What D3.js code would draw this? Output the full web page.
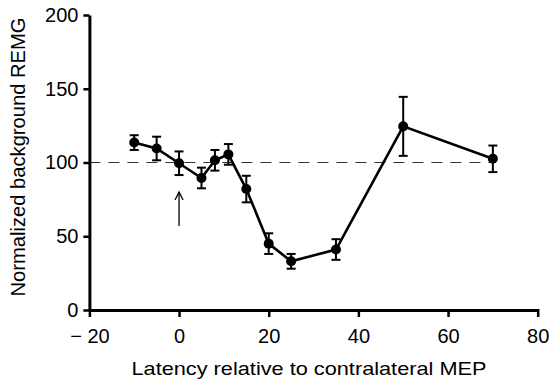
<!DOCTYPE html>
<html>
<head>
<meta charset="utf-8">
<script src="https://cdn.jsdelivr.net/npm/d3@7"></script>
<style>
  html, body { margin: 0; padding: 0; background: #fff; }
  svg { display: block; font-family: "Liberation Sans", Arial, sans-serif; }
</style>
</head>
<body>
<div id="chart"></div>
<script>
(function () {
  "use strict";

  // Latency (ms) relative to contralateral MEP, with mean and error.
  var latency = [-10, -5, 0, 5, 8, 11, 15, 20, 25, 35, 50, 70];
  var remg = [113.5, 109.5, 99.5, 89.5, 101.5, 105.5, 82, 45, 33, 41, 124.5, 102.5];
  var remgErr = [5, 8, 8, 7, 7, 7, 9, 7, 5, 7, 20, 9];

  var xTicks = [-20, 0, 20, 40, 60, 80];
  var yTicks = [0, 50, 100, 150, 200];
  var baseline = 100;
  var arrowSpan = [57, 80]; // arrow at latency 0

  var width = 550, height = 379;

  var svg = d3.select("#chart").append("svg")
    .attr("width", width)
    .attr("height", height);

  var x = d3.scaleLinear().domain([-20, 80]).range([89.4, 537.7]);
  var y = d3.scaleLinear().domain([0, 200]).range([310, 15]);

  var points = latency.map(function (d, i) {
    return { x: d, y: remg[i], e: remgErr[i] };
  });

  // Dashed reference line at 100.
  svg.append("line")
    .attr("x1", x(-20)).attr("x2", x(70))
    .attr("y1", y(baseline)).attr("y2", y(baseline))
    .attr("stroke", "#333")
    .attr("stroke-width", 1.2)
    .attr("stroke-dasharray", "11 8");

  // Axes.
  var xAxis = svg.append("g")
    .attr("transform", "translate(0," + y(0) + ")")
    .call(d3.axisBottom(x).tickValues(xTicks).tickSize(7).tickSizeOuter(0)
      .tickFormat(function (d) { return d < 0 ? "\u2212 " + Math.abs(d) : d; }));
  var yAxis = svg.append("g")
    .attr("transform", "translate(" + x(-20) + ",0)")
    .call(d3.axisLeft(y).tickValues(yTicks).tickSize(6).tickSizeOuter(0));

  [xAxis, yAxis].forEach(function (g) {
    g.select(".domain").attr("stroke", "#000").attr("stroke-width", 3);
    g.selectAll(".tick line").attr("stroke", "#000").attr("stroke-width", 2.5);
    g.selectAll(".tick text")
      .attr("fill", "#000")
      .attr("font-size", "20px")
      .attr("font-family", "'Liberation Sans', Arial, sans-serif");
  });
  xAxis.selectAll(".tick text").attr("y", 19).attr("dy", "0.71em");
  xAxis.selectAll(".tick line").attr("y1", -1);
  yAxis.selectAll(".tick text").attr("x", -11);

  // Axis titles.
  svg.append("text")
    .attr("x", 309).attr("y", 375)
    .attr("text-anchor", "middle")
    .attr("font-size", "19px")
    .attr("textLength", 355)
    .attr("lengthAdjust", "spacingAndGlyphs")
    .text("Latency relative to contralateral MEP");

  svg.append("text")
    .attr("transform", "translate(25,157) rotate(-90)")
    .attr("text-anchor", "middle")
    .attr("font-size", "20px")
    .attr("textLength", 279)
    .attr("lengthAdjust", "spacingAndGlyphs")
    .text("Normalized background REMG");

  // Error bars.
  var err = svg.append("g").attr("stroke", "#000").attr("stroke-width", 2);
  err.selectAll("line.bar").data(points).enter().append("line")
    .attr("class", "bar")
    .attr("x1", function (d) { return x(d.x); })
    .attr("x2", function (d) { return x(d.x); })
    .attr("y1", function (d) { return y(d.y + d.e); })
    .attr("y2", function (d) { return y(d.y - d.e); });
  [1, -1].forEach(function (s) {
    err.selectAll("line.cap" + (s > 0 ? "t" : "b")).data(points).enter().append("line")
      .attr("class", "cap" + (s > 0 ? "t" : "b"))
      .attr("x1", function (d) { return x(d.x) - 4.5; })
      .attr("x2", function (d) { return x(d.x) + 4.5; })
      .attr("y1", function (d) { return y(d.y + s * d.e); })
      .attr("y2", function (d) { return y(d.y + s * d.e); });
  });

  // Data line.
  svg.append("path")
    .datum(points)
    .attr("fill", "none")
    .attr("stroke", "#000")
    .attr("stroke-width", 2.6)
    .attr("d", d3.line().x(function (d) { return x(d.x); }).y(function (d) { return y(d.y); }));

  // Markers.
  svg.selectAll("circle.pt").data(points).enter().append("circle")
    .attr("class", "pt")
    .attr("cx", function (d) { return x(d.x); })
    .attr("cy", function (d) { return y(d.y); })
    .attr("r", 5)
    .attr("fill", "#000");

  // Arrow marking MEP onset.
  var ax = x(0), ay0 = y(arrowSpan[0]), ay1 = y(arrowSpan[1]);
  var arrow = svg.append("g").attr("stroke", "#000").attr("stroke-width", 1.3).attr("fill", "none");
  arrow.append("line").attr("x1", ax).attr("x2", ax).attr("y1", ay0).attr("y2", ay1);
  arrow.append("path")
    .attr("d", "M" + (ax - 4) + "," + (ay1 + 8) + " L" + ax + "," + ay1 + " L" + (ax + 4) + "," + (ay1 + 8));
})();
</script>
</body>
</html>
